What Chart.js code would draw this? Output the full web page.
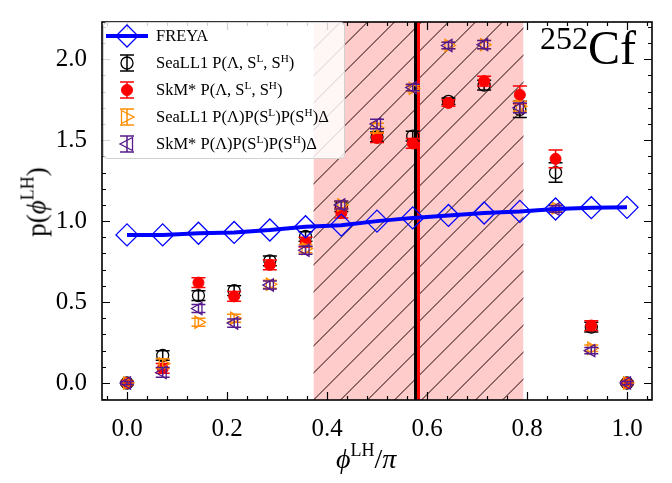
<!DOCTYPE html>
<html>
<head>
<meta charset="utf-8">
<script src="https://cdn.jsdelivr.net/npm/chart.js@4.4.1/dist/chart.umd.min.js"></script>
<style>
  html, body { margin: 0; padding: 0; background: #fff; }
  #wrap { position: relative; width: 672px; height: 483px; overflow: hidden; font-family: 'Liberation Serif', 'Times New Roman', serif; }
  canvas { position: absolute; left: 0; top: 0; }
  .lbl { position: absolute; color: #000; white-space: nowrap; line-height: 1; }
  #legend { position: absolute; left: 103px; top: 22px; width: 242px; height: 137px; box-sizing: border-box;
    border: 1px solid #d0d0d0; border-radius: 4px; background: rgba(255,255,255,0.82); }
  .row { position: absolute; left: 0; height: 26px; width: 240px; }
  .row svg { position: absolute; left: 1px; top: 0; }
  .row span { position: absolute; left: 52px; top: 4px; font-size: 16.5px; line-height: 18px; white-space: nowrap; }
  sup { font-size: 0.68em; line-height: 0; vertical-align: 0; position: relative; top: -0.5em; }
</style>
</head>
<body>
<div id="wrap">
  <canvas id="c" width="672" height="483"></canvas>
  <div id="legend">
    <div class="row" style="top:0px">
      <svg width="46" height="26"><line x1="1" y1="13" x2="43" y2="13" stroke="#0000ff" stroke-width="4"/><polygon points="22,2 33,13 22,24 11,13" fill="none" stroke="#0000ff" stroke-width="1.3"/></svg>
      <span>FREYA</span>
    </div>
    <div class="row" style="top:27px">
      <svg width="46" height="26"><line x1="22" y1="5" x2="22" y2="21" stroke="#000" stroke-width="1.5"/><line x1="15" y1="5" x2="29" y2="5" stroke="#000" stroke-width="1.5"/><line x1="15" y1="21" x2="29" y2="21" stroke="#000" stroke-width="1.5"/><circle cx="22" cy="13" r="6" fill="none" stroke="#000" stroke-width="1.3"/></svg>
      <span>SeaLL1 P(Λ, S<sup>L</sup>, S<sup>H</sup>)</span>
    </div>
    <div class="row" style="top:54px">
      <svg width="46" height="26"><line x1="22" y1="5" x2="22" y2="21" stroke="#ff0000" stroke-width="1.5"/><line x1="15" y1="5" x2="29" y2="5" stroke="#ff0000" stroke-width="1.5"/><line x1="15" y1="21" x2="29" y2="21" stroke="#ff0000" stroke-width="1.5"/><circle cx="22" cy="13" r="5.5" fill="#ff0000" stroke="#ff0000" stroke-width="1"/></svg>
      <span>SkM* P(Λ, S<sup>L</sup>, S<sup>H</sup>)</span>
    </div>
    <div class="row" style="top:81px">
      <svg width="46" height="26"><line x1="22" y1="5" x2="22" y2="21" stroke="#ff8c00" stroke-width="1.5"/><line x1="15" y1="5" x2="29" y2="5" stroke="#ff8c00" stroke-width="1.5"/><line x1="15" y1="21" x2="29" y2="21" stroke="#ff8c00" stroke-width="1.5"/><polygon points="16.5,6.5 29,13 16.5,19.5" fill="none" stroke="#ff8c00" stroke-width="1.3"/></svg>
      <span>SeaLL1 P(Λ)P(S<sup>L</sup>)P(S<sup>H</sup>)Δ</span>
    </div>
    <div class="row" style="top:108px">
      <svg width="46" height="26"><line x1="22" y1="5" x2="22" y2="21" stroke="#551a8b" stroke-width="1.5"/><line x1="15" y1="5" x2="29" y2="5" stroke="#551a8b" stroke-width="1.5"/><line x1="15" y1="21" x2="29" y2="21" stroke="#551a8b" stroke-width="1.5"/><polygon points="27.5,6.5 15,13 27.5,19.5" fill="none" stroke="#551a8b" stroke-width="1.3"/></svg>
      <span>SkM* P(Λ)P(S<sup>L</sup>)P(S<sup>H</sup>)Δ</span>
    </div>
  </div>
  <div class="lbl" style="left:540px; top:24px;"><span style="font-size:32px; position:relative; top:-15px;">252</span><span style="font-size:48px;">Cf</span></div>
  <div class="lbl" style="left:336px; top:445px; font-size:28px;"><i>ϕ</i><sup style="font-size:18px; top:-12px;">LH</sup>/<i>π</i></div>
  <div class="lbl" style="left:37px; top:202px; font-size:27px; transform: translate(-50%, -50%) rotate(-90deg);">p(<i>ϕ</i><sup style="font-size:18px; top:-12px;">LH</sup>)</div>
</div>
<script>
// ---- data ----
const phiValues = [0, 0.0714, 0.1429, 0.2143, 0.2857, 0.3571, 0.4286, 0.5, 0.5714, 0.6429, 0.7143, 0.7857, 0.8571, 0.9286, 1.0];
const freyaValues = [0.915, 0.915, 0.925, 0.93, 0.945, 0.965, 0.975, 1.0, 1.02, 1.035, 1.05, 1.06, 1.075, 1.083, 1.085];
const seall1Joint = [0, 0.17, 0.54, 0.57, 0.755, 0.905, 1.09, 1.52, 1.525, 1.74, 1.84, 1.69, 1.30, 0.345, 0];
const seall1JointErr = [0.01, 0.03, 0.03, 0.03, 0.03, 0.03, 0.03, 0.03, 0.03, 0.02, 0.03, 0.05, 0.06, 0.03, 0.01];
const skmJoint = [0, 0.09, 0.62, 0.535, 0.73, 0.87, 1.05, 1.515, 1.48, 1.73, 1.865, 1.78, 1.385, 0.355, 0];
const skmJointErr = [0.01, 0.03, 0.03, 0.03, 0.03, 0.03, 0.03, 0.03, 0.03, 0.02, 0.03, 0.055, 0.055, 0.03, 0.01];
const seall1Product = [0, 0.12, 0.375, 0.40, 0.61, 0.83, 1.10, 1.575, 1.82, 2.085, 2.09, 1.71, 1.08, 0.215, 0];
const seall1ProductErr = [0.01, 0.03, 0.025, 0.025, 0.025, 0.025, 0.025, 0.03, 0.02, 0.02, 0.025, 0.03, 0.02, 0.02, 0.01];
const skmProduct = [0, 0.065, 0.46, 0.37, 0.605, 0.82, 1.10, 1.60, 1.825, 2.085, 2.09, 1.70, 1.075, 0.20, 0];
const skmProductErr = [0.01, 0.03, 0.025, 0.025, 0.025, 0.025, 0.025, 0.03, 0.02, 0.02, 0.025, 0.03, 0.02, 0.02, 0.01];
const xTickValues = [0, 0.2, 0.4, 0.6, 0.8, 1.0];
const yTickValues = [0, 0.5, 1.0, 1.5, 2.0];
const shadedRange = [0.373, 0.793];
const blackLineX = 0.577;
const redLineX = 0.583;

const pts = (ys) => phiValues.map((x, i) => ({ x: x, y: ys[i] }));

const shadePlugin = {
  id: 'shade',
  beforeDatasetsDraw(chart) {
    const ctx = chart.ctx, a = chart.chartArea, xs = chart.scales.x;
    const x0 = xs.getPixelForValue(shadedRange[0]), x1 = xs.getPixelForValue(shadedRange[1]);
    const H = a.bottom - a.top;
    ctx.save();
    ctx.beginPath(); ctx.rect(x0, a.top, x1 - x0, H); ctx.clip();
    ctx.fillStyle = '#ffcccc';
    ctx.fillRect(x0, a.top, x1 - x0, H);
    ctx.strokeStyle = '#1a0000'; ctx.lineWidth = 1;
    ctx.beginPath();
    for (let k = x0 - H; k < x1 + 2; k += 27) {
      ctx.moveTo(k, a.bottom); ctx.lineTo(k + H, a.top);
    }
    ctx.stroke();
    ctx.restore();
    ctx.save();
    ctx.lineWidth = 3;
    ctx.strokeStyle = '#000';
    let bx = xs.getPixelForValue(blackLineX);
    ctx.beginPath(); ctx.moveTo(bx, a.top); ctx.lineTo(bx, a.bottom); ctx.stroke();
    ctx.strokeStyle = '#ff0000';
    let rx = xs.getPixelForValue(redLineX);
    ctx.beginPath(); ctx.moveTo(rx, a.top); ctx.lineTo(rx, a.bottom); ctx.stroke();
    ctx.restore();
  }
};

const errPlugin = {
  id: 'errbars',
  beforeDatasetDraw(chart, args) {
    const ds = chart.data.datasets[args.index];
    if (!ds.errors) return;
    const ctx = chart.ctx, xs = chart.scales.x, ys = chart.scales.y;
    ctx.save();
    ctx.strokeStyle = ds.borderColor; ctx.lineWidth = 1.5;
    ds.data.forEach((p, i) => {
      const e = ds.errors[i];
      const px = xs.getPixelForValue(p.x);
      const y1 = ys.getPixelForValue(p.y - e), y2 = ys.getPixelForValue(p.y + e);
      ctx.beginPath();
      ctx.moveTo(px, y1); ctx.lineTo(px, y2);
      ctx.moveTo(px - 7, y1); ctx.lineTo(px + 7, y1);
      ctx.moveTo(px - 7, y2); ctx.lineTo(px + 7, y2);
      ctx.stroke();
    });
    ctx.restore();
  }
};

const framePlugin = {
  id: 'frame',
  afterDatasetsDraw(chart) {
    const ctx = chart.ctx, a = chart.chartArea, xs = chart.scales.x, ys = chart.scales.y;
    ctx.save();
    ctx.strokeStyle = '#000';
    ctx.lineWidth = 1.2;
    ctx.beginPath();
    for (let k = -1; k <= 26; k++) {
      const v = k * 0.04;
      if (v < xs.min || v > xs.max) continue;
      const major = (k % 5 === 0);
      const L = major ? 8 : 4;
      const px = Math.round(xs.getPixelForValue(v)) + 0.5;
      ctx.moveTo(px, a.bottom); ctx.lineTo(px, a.bottom - L);
      ctx.moveTo(px, a.top); ctx.lineTo(px, a.top + L);
    }
    for (let k = -1; k <= 22; k++) {
      const v = k * 0.1;
      if (v < ys.min || v > ys.max) continue;
      const major = (k % 5 === 0);
      const L = major ? 8 : 4;
      const py = Math.round(ys.getPixelForValue(v)) + 0.5;
      ctx.moveTo(a.left, py); ctx.lineTo(a.left + L, py);
      ctx.moveTo(a.right, py); ctx.lineTo(a.right - L, py);
    }
    ctx.stroke();
    ctx.lineWidth = 1.6;
    ctx.strokeRect(a.left, a.top, a.right - a.left, a.bottom - a.top);
    ctx.restore();
  }
};

const tickFont = { family: "'Liberation Serif', 'Times New Roman', serif", size: 25 };

new Chart(document.getElementById('c'), {
  type: 'scatter',
  data: {
    datasets: [
      { label: 'FREYA', data: pts(freyaValues), showLine: true, borderColor: '#0000ff', borderWidth: 4,
        pointStyle: 'rectRot', pointRadius: 11, pointBorderWidth: 1.3, pointBorderColor: '#0000ff',
        pointBackgroundColor: 'rgba(0,0,0,0)', order: 0 },
      { label: 'SeaLL1 joint', data: pts(seall1Joint), errors: seall1JointErr, borderColor: '#000000',
        pointStyle: 'circle', pointRadius: 6, pointBorderWidth: 1.3, backgroundColor: 'rgba(0,0,0,0)', order: 4 },
      { label: 'SkM* joint', data: pts(skmJoint), errors: skmJointErr, borderColor: '#ff0000',
        pointStyle: 'circle', pointRadius: 5.5, pointBorderWidth: 1, backgroundColor: '#ff0000', order: 3 },
      { label: 'SeaLL1 product', data: pts(seall1Product), errors: seall1ProductErr, borderColor: '#ff8c00',
        pointStyle: 'triangle', rotation: 90, pointRadius: 7, pointBorderWidth: 1.3, backgroundColor: 'rgba(0,0,0,0)', order: 2 },
      { label: 'SkM* product', data: pts(skmProduct), errors: skmProductErr, borderColor: '#551a8b',
        pointStyle: 'triangle', rotation: -90, pointRadius: 7, pointBorderWidth: 1.3, backgroundColor: 'rgba(0,0,0,0)', order: 1 }
    ]
  },
  options: {
    responsive: false,
    animation: false,
    devicePixelRatio: 1,
    layout: { padding: { left: 0, right: 20, top: 2, bottom: 0 } },
    plugins: { legend: { display: false }, tooltip: { enabled: false } },
    scales: {
      x: {
        type: 'linear', min: -0.05, max: 1.05,
        grid: { display: false }, border: { display: false },
        afterBuildTicks: (s) => { s.ticks = xTickValues.map(v => ({ value: v })); },
        afterFit: (s) => { s.height = 83; },
        ticks: { font: tickFont, color: '#000', padding: 6, maxRotation: 0,
          callback: (v) => Number(v).toFixed(1) }
      },
      y: {
        type: 'linear', min: -0.105, max: 2.23,
        grid: { display: false }, border: { display: false },
        afterBuildTicks: (s) => { s.ticks = yTickValues.map(v => ({ value: v })); },
        afterFit: (s) => { s.width = 102; },
        ticks: { font: tickFont, color: '#000', padding: 7,
          callback: (v) => Number(v).toFixed(1) }
      }
    }
  },
  plugins: [shadePlugin, errPlugin, framePlugin]
});
</script>
</body>
</html>
